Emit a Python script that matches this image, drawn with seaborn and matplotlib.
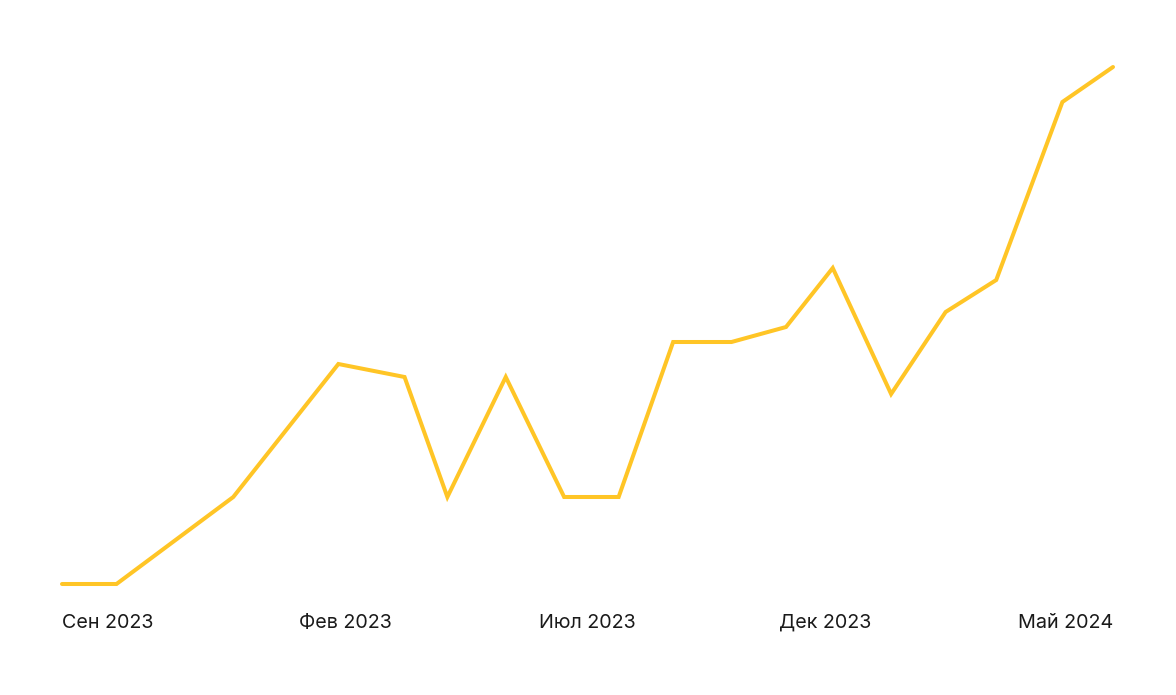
import matplotlib
matplotlib.use("Agg")
import matplotlib.pyplot as plt
import seaborn as sns
import pandas as pd

# day offsets from the first point, and the series value
days = [0, 14, 44, 71, 88, 99, 114, 129, 143, 157, 172, 186, 198, 213, 227, 240, 257, 270]
values = [10, 10, 27.4, 54, 51.4, 27.4, 51.4, 27.4, 27.4, 58.4, 58.4, 61.4, 73.2, 48, 64.4, 70.8, 106.4, 113.4]
tick_labels = ["Сен 2023", "Фев 2023", "Июл 2023", "Дек 2023", "Май 2024"]

df = pd.DataFrame({"day": days, "value": values})

sns.set_style("white")
plt.rcParams['font.family'] = ['Inter', 'DejaVu Sans']

fig = plt.figure(figsize=(11.76, 6.95), dpi=100)
ax = fig.add_axes([62 / 1176, 1 - 584 / 695, (1113 - 62) / 1176, (584 - 67) / 695])

sns.lineplot(data=df, x="day", y="value", ax=ax, color="#FFC526", linewidth=2.9,
             solid_capstyle="round", solid_joinstyle="miter", clip_on=False)

ax.set_xlim(min(days), max(days))
ax.set_ylim(min(values), max(values))
ax.set_axis_off()

# labels spread edge to edge with equal gaps between them
label_pos = [0, (345 - 62) / 1051, (587 - 62) / 1051, (825 - 62) / 1051, 1]
label_ha = ["left", "center", "center", "center", "right"]
label_y = 1 - (623 - 67) / (584 - 67)
for lab, pos, ha in zip(tick_labels, label_pos, label_ha):
    ax.text(pos, label_y, lab, transform=ax.transAxes,
            ha=ha, va="center", fontsize=14.2, color="#1a1a1a")

fig.savefig("out.png", dpi=100, facecolor="white")
